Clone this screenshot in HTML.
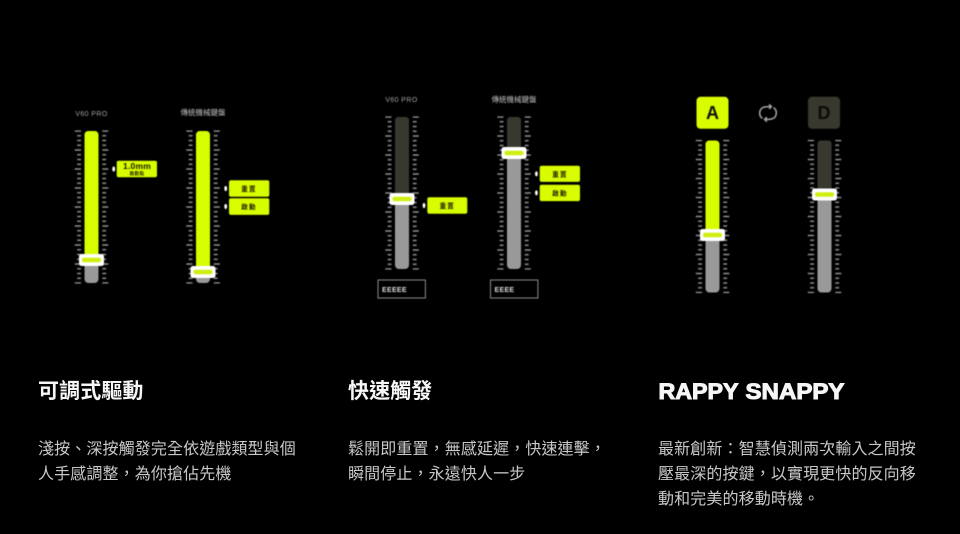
<!DOCTYPE html>
<html lang="zh-Hant">
<head>
<meta charset="utf-8">
<title>Rappy Snappy</title>
<style>
html,body{margin:0;padding:0;background:#000;}
body{width:960px;height:534px;position:relative;overflow:hidden;font-family:"Liberation Sans","Noto Sans CJK TC",sans-serif;}
svg.d{position:absolute;left:0;top:0;filter:blur(.4px);}
h2{position:absolute;margin:0;top:377px;font-size:21px;line-height:30px;letter-spacing:.1px;font-weight:700;color:#f6f6f6;}
p{position:absolute;margin:0;top:437px;width:270px;font-size:16px;line-height:25px;letter-spacing:.12px;color:#c8c8c8;}
</style>
</head>
<body>
<svg class="d" width="960" height="534" viewBox="0 0 960 534" xmlns="http://www.w3.org/2000/svg">
<defs>
<pattern id="tk" patternUnits="userSpaceOnUse" x="-9.7" y="-0.7" width="33.5" height="19">
<g fill="#9a9a9a">
<rect x="0" y="0" width="6.2" height="1.4"/><rect x="27.5" y="0" width="6" height="1.4"/>
<rect x="2.4" y="4.75" width="3.8" height="1.4"/><rect x="27.5" y="4.75" width="3.8" height="1.4"/>
<rect x="2.4" y="9.5" width="3.8" height="1.4"/><rect x="27.5" y="9.5" width="3.8" height="1.4"/>
<rect x="2.4" y="14.25" width="3.8" height="1.4"/><rect x="27.5" y="14.25" width="3.8" height="1.4"/>
</g>
</pattern>
<rect id="ticks" x="-9.7" y="-0.7" width="33.5" height="153.4" fill="url(#tk)"/>
<clipPath id="tc"><rect x="0" y="0" width="14" height="152" rx="4"/></clipPath>
<g id="h">
<rect x="-12.5" y="-6" width="25" height="12" rx="2.5" fill="#fff"/>
<rect x="-9.5" y="-2.2" width="19" height="4.4" rx="2" fill="#d0ee10"/>
</g>
</defs>

<g font-family="Liberation Sans, Noto Sans CJK TC, sans-serif" text-anchor="middle">
<text x="91.5" y="116" font-size="7" letter-spacing=".4" fill="#a0a0a0">V60 PRO</text>
<text x="203" y="115" font-size="7.5" fill="#c0c0c0">傳統機械鍵盤</text>
<text x="401.5" y="102" font-size="7" letter-spacing=".4" fill="#a0a0a0">V60 PRO</text>
<text x="514" y="102" font-size="7.5" fill="#c0c0c0">傳統機械鍵盤</text>
</g>

<g transform="translate(84.5,131)"><use href="#ticks"/><g clip-path="url(#tc)"><rect width="14" height="152" fill="#999"/><rect width="14" height="129" fill="#d8fc00"/></g><use href="#h" x="7" y="129"/></g>
<g transform="translate(196,131)"><use href="#ticks"/><g clip-path="url(#tc)"><rect width="14" height="152" fill="#999"/><rect width="14" height="141" fill="#d8fc00"/></g><use href="#h" x="7" y="141"/></g>

<g transform="translate(395,117)"><use href="#ticks"/><g clip-path="url(#tc)"><rect width="14" height="152" fill="#999"/><rect width="14" height="82" fill="#38382f"/></g><use href="#h" x="7" y="82"/></g>
<g transform="translate(507,117)"><use href="#ticks"/><g clip-path="url(#tc)"><rect width="14" height="152" fill="#999"/><rect width="14" height="36" fill="#38382f"/></g><use href="#h" x="7" y="36"/></g>

<g transform="translate(705.5,140.5)"><use href="#ticks"/><g clip-path="url(#tc)"><rect width="14" height="152" fill="#999"/><rect width="14" height="94.5" fill="#d8fc00"/></g><use href="#h" x="7" y="94.5"/></g>
<g transform="translate(817.5,140.5)"><use href="#ticks"/><g clip-path="url(#tc)"><rect width="14" height="152" fill="#999"/><rect width="14" height="54" fill="#38382f"/></g><use href="#h" x="7" y="54"/></g>

<g fill="#d8fc00">
<rect x="116.7" y="160.7" width="40.3" height="16.6" rx="2"/>
<rect x="229" y="180.3" width="40.3" height="16.4" rx="2"/>
<rect x="229" y="198.3" width="40.3" height="16.6" rx="2"/>
<rect x="427.3" y="197.3" width="40" height="16.4" rx="2"/>
<rect x="539.7" y="165.7" width="40.3" height="16.2" rx="2"/>
<rect x="539.7" y="184.7" width="40.3" height="16.4" rx="2"/>
<rect x="696.5" y="96.8" width="32" height="32" rx="4"/>
</g>
<rect x="808" y="96.8" width="32" height="32" rx="4" fill="#38382f"/>
<g fill="#fff">
<ellipse cx="113.7" cy="169" rx="1.4" ry="2.6"/>
<ellipse cx="225.7" cy="188.5" rx="1.4" ry="2.6"/>
<ellipse cx="225.7" cy="206.5" rx="1.4" ry="2.6"/>
<ellipse cx="424" cy="205.5" rx="1.4" ry="2.6"/>
<ellipse cx="536.4" cy="173.8" rx="1.4" ry="2.6"/>
<ellipse cx="536.4" cy="192.8" rx="1.4" ry="2.6"/>
</g>
<g font-family="Liberation Sans, Noto Sans CJK TC, sans-serif" font-weight="700" fill="#1a1a00" text-anchor="middle">
<text x="137" y="169" font-size="8.5" letter-spacing=".2">1.0mm</text>
<text x="137" y="175" font-size="4.5" letter-spacing=".4">啟動點</text>
<text x="249" y="191" font-size="6.5" letter-spacing="1.2">重置</text>
<text x="249" y="209" font-size="6.5" letter-spacing="1.2">啟動</text>
<text x="447.3" y="208" font-size="6.5" letter-spacing="1.2">重置</text>
<text x="560" y="176.3" font-size="6.5" letter-spacing="1.2">重置</text>
<text x="560" y="195.3" font-size="6.5" letter-spacing="1.2">啟動</text>
<text x="712.5" y="119" font-size="18" fill="#111">A</text>
<text x="824" y="119" font-size="18" fill="#0c0c08">D</text>
</g>

<g fill="none" stroke="#a8a8a8" stroke-width="1.5" stroke-linecap="round" stroke-linejoin="round">
<path d="M762 118 C758.5 115.5 759 109 763.5 107.3 C765.5 106.6 768 106.5 771 106.6"/>
<path d="M774 108 C777.5 110.5 777 117 772.5 118.7 C770.5 119.4 768 119.5 765 119.4"/>
<path d="M769.5 104.8 L771.5 106.6 L769.5 108.4"/>
<path d="M766.5 117.6 L764.5 119.4 L766.5 121.2"/>
</g>

<g fill="none" stroke="#8c8c8c" stroke-width="1">
<rect x="378" y="280" width="47.4" height="18"/>
<rect x="490.5" y="280" width="47.4" height="18"/>
</g>
<g font-family="Liberation Sans, sans-serif" font-size="7" font-weight="700" fill="#ddd">
<text x="382" y="292" letter-spacing=".3">EEEEE</text>
<text x="494.5" y="292" letter-spacing=".3">EEEE</text>
</g>
</svg>

<h2 style="left:38px">可調式驅動</h2>
<h2 style="left:348px">快速觸發</h2>
<svg width="960" height="534" style="position:absolute;left:0;top:0" xmlns="http://www.w3.org/2000/svg">
<g font-family="Liberation Sans, sans-serif" font-weight="700" font-size="22" fill="#f6f6f6" stroke="#f6f6f6" stroke-width="1">
<text x="658.5" y="399" textLength="80" lengthAdjust="spacingAndGlyphs">RAPPY</text>
<text x="745.5" y="399" textLength="99" lengthAdjust="spacingAndGlyphs">SNAPPY</text>
</g>
</svg>

<p style="left:38px">淺按、深按觸發完全依遊戲類型與個<br>人手感調整，為你搶佔先機</p>
<p style="left:348px">鬆開即重置，無感延遲，快速連擊，<br>瞬間停止，永遠快人一步</p>
<p style="left:658px">最新創新：智慧偵測兩次輸入之間按<br>壓最深的按鍵，以實現更快的反向移<br>動和完美的移動時機。</p>
</body>
</html>
